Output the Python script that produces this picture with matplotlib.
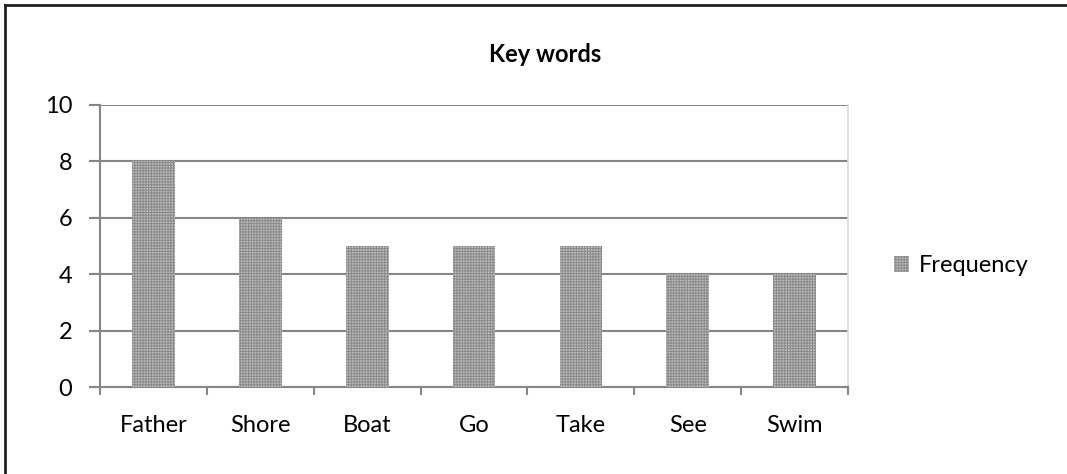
import matplotlib.pyplot as plt

plt.rcParams['font.family'] = ['Lato', 'DejaVu Sans']
plt.rcParams['hatch.linewidth'] = 0.7

words = ["Father", "Shore", "Boat", "Go", "Take", "See", "Swim"]
frequency = [8, 6, 5, 5, 5, 4, 4]
y_ticks = [0, 2, 4, 6, 8, 10]

fig = plt.figure(figsize=(10.67, 4.74), dpi=100)
ax = fig.add_axes([0.0937, 0.1835, 0.7011, 0.595])

grid_col = '#868686'
fs = 17
ax.bar(range(len(words)), frequency, width=0.4, color='#bcbcbc',
       hatch='++++++', edgecolor='#8a8a8a', linewidth=0, zorder=3,
       label='Frequency')

ax.set_xlim(-0.5, len(words) - 0.5)
ax.set_ylim(0, 10)
ax.set_yticks(y_ticks)
ax.set_yticklabels([str(v) for v in y_ticks], fontsize=fs)
ax.set_xticks(range(len(words)))
ax.set_xticklabels(words, fontsize=fs)
ax.tick_params(axis='x', length=0, pad=20)
ax.tick_params(axis='y', length=8, width=1.5, color=grid_col, pad=12)

# category boundary ticks on the x axis
ax.set_xticks([i - 0.5 for i in range(len(words) + 1)], minor=True)
ax.tick_params(axis='x', which='minor', length=6, width=1.5, color=grid_col)

ax.grid(axis='y', color=grid_col, linewidth=1.5, zorder=0)
ax.spines['top'].set_visible(False)
ax.spines['right'].set_color('#d9d9d9')
ax.spines['right'].set_linewidth(1.2)
for side in ['left', 'bottom']:
    ax.spines[side].set_color(grid_col)
    ax.spines[side].set_linewidth(1.5)

fig.text(545 / 1067, 1 - 55 / 474, "Key words", fontsize=fs, fontweight='bold',
         ha='center', va='center')

ax.legend(loc='center left', bbox_to_anchor=(1.033, 0.43), frameon=False,
          fontsize=fs, handlelength=0.65, handleheight=0.65, handletextpad=0.4)

# outer chart border (top and left edges)
fig.add_artist(plt.Line2D([5 / 1067, 1], [1 - 5 / 474, 1 - 5 / 474],
                          color='#222222', linewidth=2, transform=fig.transFigure))
fig.add_artist(plt.Line2D([5 / 1067, 5 / 1067], [0, 1 - 5 / 474],
                          color='#222222', linewidth=2, transform=fig.transFigure))

fig.savefig('out.png', dpi=100)
